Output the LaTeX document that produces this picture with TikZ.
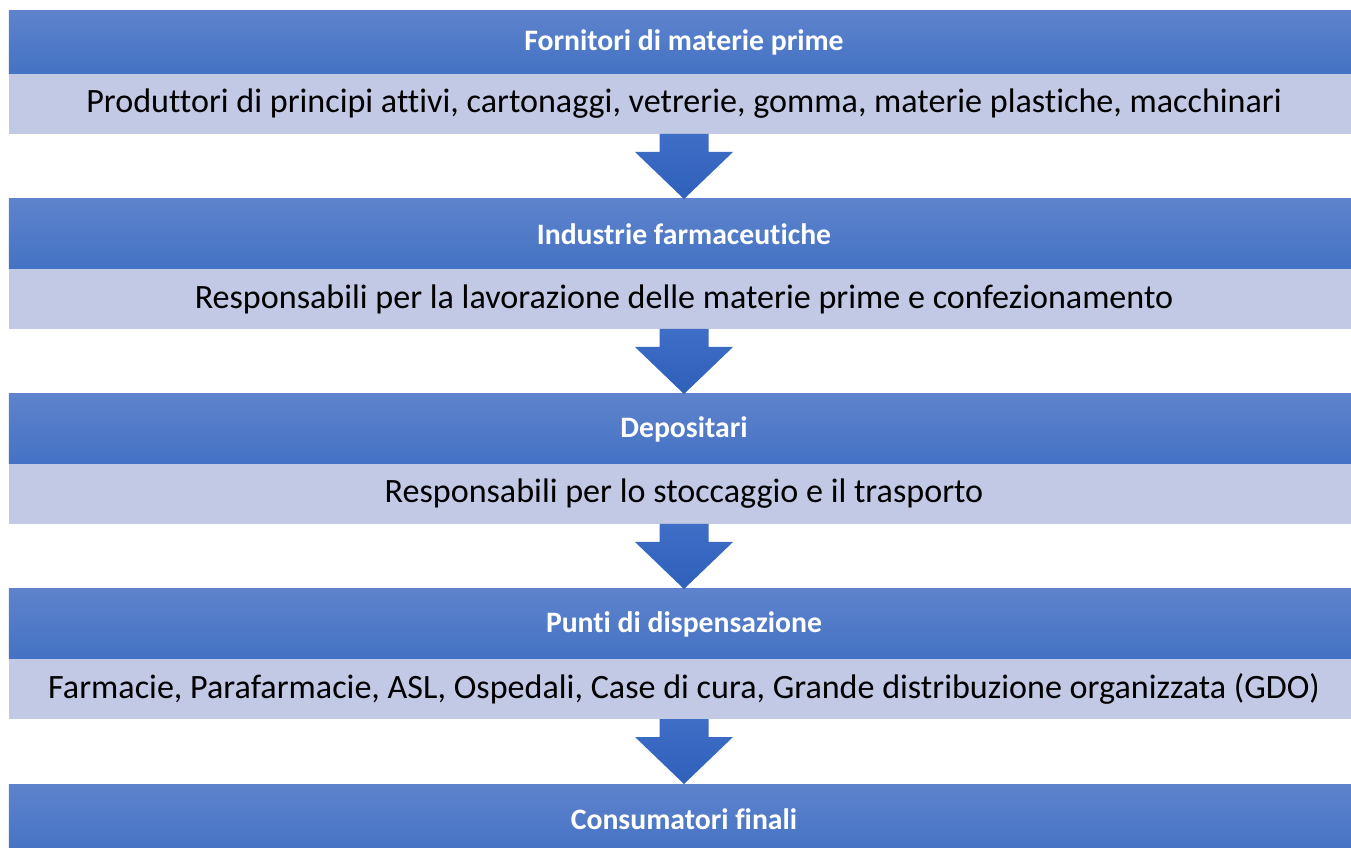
\documentclass[tikz,border=0pt]{standalone}
\usepackage{fontspec}
\setmainfont{Carlito}[Ligatures=CommonOff]
\usetikzlibrary{positioning}

\definecolor{headtop}{RGB}{94,131,204}
\definecolor{headbot}{RGB}{68,114,196}
\definecolor{bandfill}{RGB}{193,201,229}
\definecolor{flowtop}{RGB}{62,110,198}
\definecolor{flowbot}{RGB}{47,96,186}

\begin{document}
\begin{tikzpicture}[
every node/.style={inner sep=0pt,outer sep=0pt},
head/.style={minimum width=27cm,minimum height=1.4cm,top color=headtop,bottom color=headbot,
  text=white,font=\fontsize{16.9}{20}\selectfont\bfseries},
band/.style={minimum width=27cm,minimum height=1.2cm,fill=bandfill,
  font=\fontsize{19.4}{23}\selectfont},
flow/.style={top color=flowtop,bottom color=flowbot}]

\useasboundingbox (0,0) rectangle (27.02,16.94);
\clip (0,0) rectangle (27.02,16.94);

\node[head,minimum height=1.26cm] (h1) at (13.68,16.09) {Fornitori di materie prime};
\node[band,below=0pt of h1] (b1) {Produttori di principi attivi, cartonaggi, vetrerie, gomma, materie plastiche, macchinari};

\node[head,below=1.3cm of b1] (h2) {Industrie farmaceutiche};
\node[band,below=0pt of h2] (b2) {Responsabili per la lavorazione delle materie prime e confezionamento};

\node[head,below=1.3cm of b2] (h3) {Depositari};
\node[band,below=0pt of h3] (b3) {Responsabili per lo stoccaggio e il trasporto};

\node[head,below=1.3cm of b3] (h4) {Punti di dispensazione};
\node[band,below=0pt of h4] (b4) {Farmacie, Parafarmacie, ASL, Ospedali, Case di cura, Grande distribuzione organizzata (GDO)};

\node[head,below=1.3cm of b4] (h5) {Consumatori finali};

% block arrows between the levels
\foreach \a/\b in {b1/h2,b2/h3,b3/h4,b4/h5}
  \path[flow] ([xshift=-0.49cm]\a.south) -- ++(0,-0.36) -- ++(-0.49,0) -- (\b.north)
    -- ([shift={(0.98,0.94)}]\b.north) -- ++(-0.49,0) -- ([xshift=0.49cm]\a.south) -- cycle;

\end{tikzpicture}
\end{document}
